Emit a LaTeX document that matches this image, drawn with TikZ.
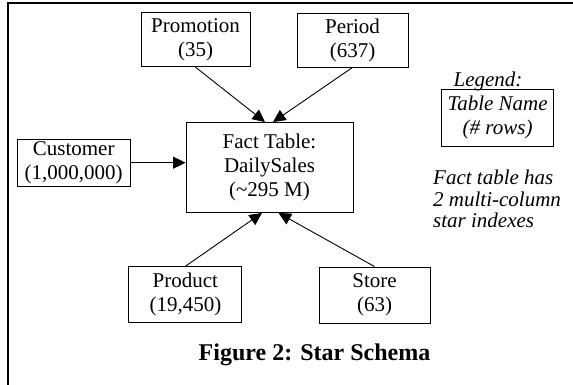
\documentclass[tikz,border=0pt]{standalone}
\usepackage{fontspec}
\setmainfont{Liberation Serif}
\usepackage{tikz}
\usetikzlibrary{arrows.meta, positioning, calc}
\definecolor{schemaink}{HTML}{000000}
\tikzset{
  tbl/.style={draw=schemaink, line width=0.9pt, inner sep=0pt, align=center,
    font=\fontsize{21}{24}\selectfont},
  fkarrow/.style={draw=schemaink, line width=0.9pt, -{Triangle[length=12.5pt, width=12pt]}},
}

\begin{document}
\begin{tikzpicture}[x=1pt, y=1pt]
      \useasboundingbox (0,0) rectangle (573,385);
      % frame of the figure (only top and left edges visible)
      \draw[line width=1.8pt] (8,0) -- (8,382.3) -- (573,382.3);
      % dimension tables and fact table
      \node[tbl, minimum width=109pt, minimum height=54pt] (promo) at (195.5,345.3) {Promotion\\(35)};
      \node[tbl, minimum width=111pt, minimum height=54pt] (period) at (352.5,345) {Period\\(637)};
      \node[tbl, minimum width=167pt, minimum height=90pt] (fact) at (269.5,217.5) {Fact Table:\\DailySales\\(\textasciitilde 295 M)};
      \node[tbl, minimum width=112.5pt, minimum height=47pt] (cust) at (73.7,222.3) {Customer\\(1,000,000)};
      \node[tbl, minimum width=113pt, minimum height=56pt] (product) at (185.4,90.3) {Product\\(19,450)};
      \node[tbl, minimum width=111pt, minimum height=56pt] (store) at (374.5,90) {Store\\(63)};
      % legend and note
      \node[font=\fontsize{21}{24}\selectfont\itshape] (legtitle) at (488,304) {Legend:};
      \node[tbl, font=\fontsize{21}{24}\selectfont\itshape, minimum width=112pt, minimum height=57pt] (legbox) at (497.6,267.5) {Table Name\\(\# rows)};
      \node[font=\fontsize{21}{21.5}\selectfont\itshape, align=left, anchor=west, inner sep=0pt] (note) at (433,186) {Fact table has\\2 multi-column\\star indexes};
      \node[font=\fontsize{24}{28}\selectfont\bfseries] (caption) at (314.5,30) {Figure 2: Star Schema};
      % foreign key arrows into the fact table
      \coordinate (intop1) at ($(fact.north)+(-4.5,0)$);
      \coordinate (intop2) at ($(fact.north)+(3.5,0)$);
      \coordinate (inbot1) at ($(fact.south)+(-7.5,0)$);
      \coordinate (inbot2) at ($(fact.south)+(9,0)$);
      \draw[fkarrow] (promo.south) -- (intop1);
      \draw[fkarrow] (period.south) -- (intop2);
      \draw[fkarrow] (cust.east) -- (cust.east -| fact.west);
      \draw[fkarrow] (product.north) -- (inbot1);
      \draw[fkarrow] (store.north) -- (inbot2);
    \end{tikzpicture}
\end{document}
